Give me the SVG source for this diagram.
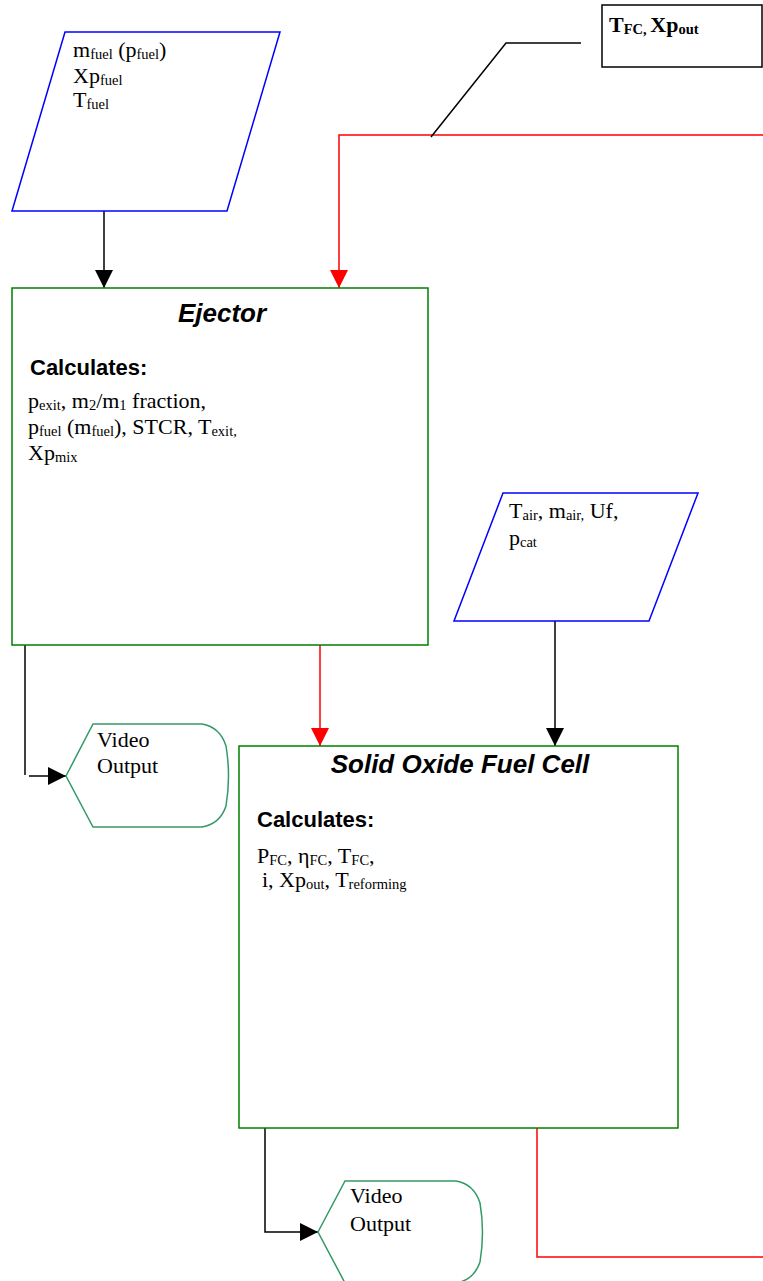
<svg xmlns="http://www.w3.org/2000/svg" width="763" height="1281" viewBox="0 0 763 1281">
<style>
.t{font-family:"Liberation Serif","Times New Roman",serif;font-size:22px;fill:#000}
.s{font-size:14.5px}
.h{font-family:"Liberation Sans",Arial,sans-serif;font-weight:bold;font-style:italic;font-size:26px;fill:#000}
.c{font-family:"Liberation Sans",Arial,sans-serif;font-weight:bold;font-size:22px;fill:#000}
.in{fill:#fff;stroke:#0000ff;stroke-width:1.5}
.box{fill:#fff;stroke:#008000;stroke-width:1.5}
.vid{fill:#fff;stroke:#339966;stroke-width:1.5}
.k{fill:none;stroke:#000;stroke-width:1.5}
.r{fill:none;stroke:#ff0000;stroke-width:1.5}
</style>
<defs>
<marker id="ak" markerWidth="18" markerHeight="18" refX="18" refY="9" orient="auto" markerUnits="userSpaceOnUse"><path d="M0,0 L18,9 L0,18 Z" fill="#000"/></marker>
<marker id="ar" markerWidth="18" markerHeight="18" refX="18" refY="9" orient="auto" markerUnits="userSpaceOnUse"><path d="M0,0 L18,9 L0,18 Z" fill="#ff0000"/></marker>
</defs>
<g id="connectors">
<path class="k" d="M104,211 L104,288" marker-end="url(#ak)"/>
<path class="r" d="M763,135 L339,135 L339,288" marker-end="url(#ar)"/>
<path class="k" d="M581,43 L506,43 L431,137"/>
<path class="k" d="M25,645 L25,775"/>
<path class="k" d="M29,776 L66,776" marker-end="url(#ak)"/>
<path class="r" d="M320,645 L320,746" marker-end="url(#ar)"/>
<path class="k" d="M555,621 L555,746" marker-end="url(#ak)"/>
<path class="k" d="M265,1128 L265,1232 L318,1232" marker-end="url(#ak)"/>
<path class="r" d="M537,1128 L537,1257 L763,1257"/>
</g>
<g id="fuel-input">
<polygon class="in" points="65,32 280,32 227,211 12,211"/>
<text class="t" x="73" y="57">m<tspan class="s" dy="2">fuel</tspan><tspan dy="-2"> (p</tspan><tspan class="s" dy="2">fuel</tspan><tspan dy="-2">)</tspan></text>
<text class="t" x="73" y="83">Xp<tspan class="s" dy="2">fuel</tspan></text>
<text class="t" x="73" y="107">T<tspan class="s" dy="2">fuel</tspan></text>
</g>
<g id="tfc-label">
<rect x="602" y="5" width="160" height="62" fill="#fff" stroke="#000" stroke-width="1.5"/>
<text class="t" x="609" y="32" font-weight="bold">T<tspan class="s" dy="2">FC, </tspan><tspan dy="-2">Xp</tspan><tspan class="s" dy="2">out</tspan></text>
</g>
<g id="ejector">
<rect class="box" x="12" y="288" width="416" height="357"/>
<text class="h" x="222" y="322" text-anchor="middle">Ejector</text>
<text class="c" x="30" y="375">Calculates:</text>
<text class="t" x="28" y="408">p<tspan class="s" dy="2">exit</tspan><tspan dy="-2">, m</tspan><tspan class="s" dy="2">2</tspan><tspan dy="-2">/m</tspan><tspan class="s" dy="2">1</tspan><tspan dy="-2"> fraction,</tspan></text>
<text class="t" x="28" y="434">p<tspan class="s" dy="2">fuel</tspan><tspan dy="-2"> (m</tspan><tspan class="s" dy="2">fuel</tspan><tspan dy="-2">), STCR, T</tspan><tspan class="s" dy="2">exit,</tspan></text>
<text class="t" x="28" y="460">Xp<tspan class="s" dy="2">mix</tspan></text>
</g>
<g id="air-input">
<polygon class="in" points="503,493 698,493 649,621 454,621"/>
<text class="t" x="509" y="518">T<tspan class="s" dy="2">air</tspan><tspan dy="-2">, m</tspan><tspan class="s" dy="2">air,</tspan><tspan dy="-2"> Uf,</tspan></text>
<text class="t" x="509" y="545">p<tspan class="s" dy="2">cat</tspan></text>
</g>
<g id="video-output-1">
<path class="vid" d="M66,776 L93,724 L202,724 Q220,727 226,746 Q231,776 226,806 Q220,824 202,827 L93,827 Z"/>
<text class="t" x="97" y="747">Video</text>
<text class="t" x="97" y="773">Output</text>
</g>
<g id="sofc">
<rect class="box" x="239" y="746" width="439" height="382"/>
<text class="h" x="460" y="773" text-anchor="middle">Solid Oxide Fuel Cell</text>
<text class="c" x="257" y="827">Calculates:</text>
<text class="t" x="257" y="863">P<tspan class="s" dy="2">FC</tspan><tspan dy="-2">, η</tspan><tspan class="s" dy="2">FC</tspan><tspan dy="-2">, T</tspan><tspan class="s" dy="2">FC</tspan><tspan dy="-2">,</tspan></text>
<text class="t" x="262" y="887">i, Xp<tspan class="s" dy="2">out</tspan><tspan dy="-2">, T</tspan><tspan class="s" dy="2">reforming</tspan></text>
</g>
<g id="video-output-2">
<path class="vid" d="M318,1232 L345,1181 L456,1181 Q474,1184 480,1203 Q485,1232 480,1262 Q474,1280 456,1283 L345,1283 Z"/>
<text class="t" x="350" y="1203">Video</text>
<text class="t" x="350" y="1231">Output</text>
</g>
</svg>
